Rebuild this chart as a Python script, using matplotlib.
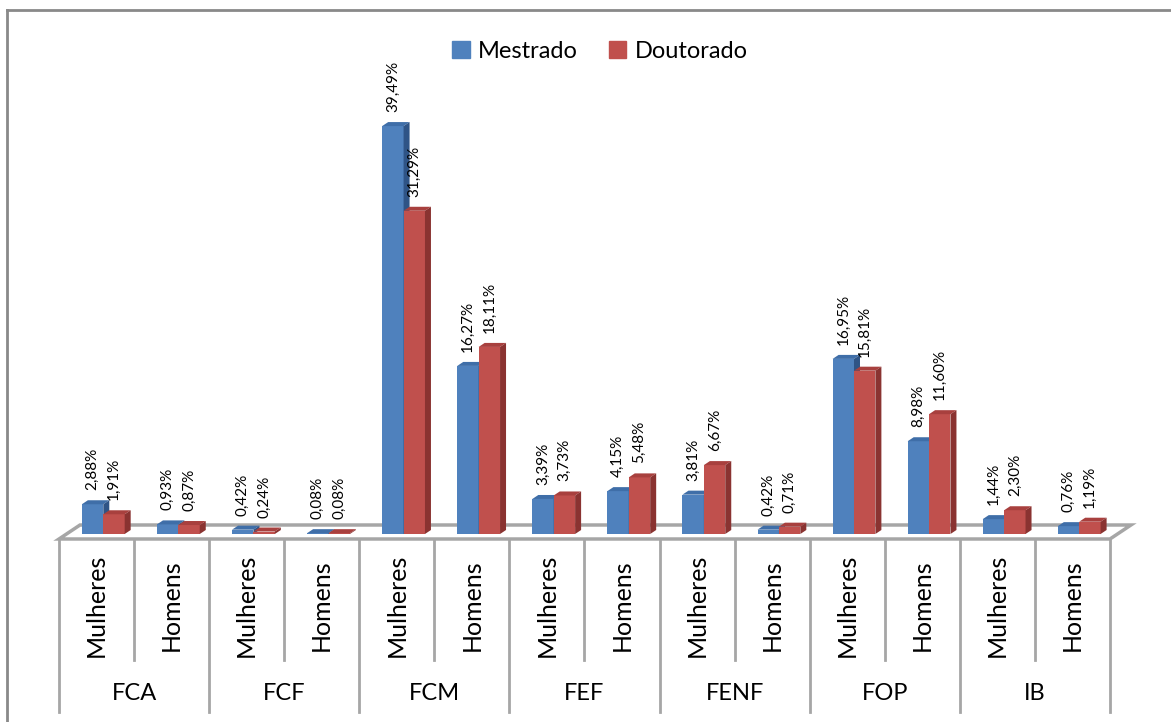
import matplotlib
matplotlib.use("Agg")
import matplotlib.pyplot as plt
from matplotlib.patches import Polygon, Patch
from matplotlib.lines import Line2D

# -------------------------------
# DATA
# -------------------------------
grupos = ["FCA", "FCF", "FCM", "FEF", "FENF", "FOP", "IB"]
sexos = ["Mulheres", "Homens"]
mestrado = [2.88, 0.93, 0.42, 0.08, 39.49, 16.27, 3.39, 4.15, 3.81, 0.42, 16.95, 8.98, 1.44, 0.76]
doutorado = [1.91, 0.87, 0.24, 0.08, 31.29, 18.11, 3.73, 5.48, 6.67, 0.71, 15.81, 11.60, 2.30, 1.19]

plt.rcParams['font.family'] = ['Lato', 'DejaVu Sans']

# colours (front, top, side)
azul = ("#4F81BD", "#3F6EA8", "#2F5486")
vermelho = ("#C0504D", "#A8403E", "#8A3331")
cinza = "#A6A6A6"

# pixel geometry of the original chart
px_slot = 75.07      # width of one category slot
px_pct = 10.33       # pixels per 1 %
base_x, base_y = 59, 534

fig = plt.figure(figsize=(11.71, 7.22), dpi=100)
ax = fig.add_axes([0, 0, 1, 1])
ax.set_xlim(-base_x / px_slot, (1171 - base_x) / px_slot)
ax.set_ylim(-(722 - base_y) / px_pct, base_y / px_pct)
ax.axis('off')

# 3D depth of bars and floor (data units)
dx, dy = 6 / px_slot, 4 / px_pct
fdx, fdy = 21 / px_slot, 14 / px_pct
f_front = -5 / px_pct

n = len(mestrado)

# -------------------------------
# FLOOR
# -------------------------------
floor = Polygon([(0, f_front), (fdx, f_front + fdy), (n + fdx, f_front + fdy), (n, f_front)],
                closed=True, facecolor='white', edgecolor=cinza, lw=2.5, zorder=1)
ax.add_patch(floor)


def barra3d(x, w, h, cores):
    frente, topo, lado = cores
    ax.bar(x, h, w, align='edge', color=frente, edgecolor='none', zorder=3)
    ax.add_patch(Polygon([(x, h), (x + dx, h + dy), (x + w + dx, h + dy), (x + w, h)],
                         closed=True, facecolor=topo, edgecolor='none', zorder=3))
    ax.add_patch(Polygon([(x + w, 0), (x + w, h), (x + w + dx, h + dy), (x + w + dx, dy)],
                         closed=True, facecolor=lado, edgecolor='none', zorder=3))


def rotulo(x, h):
    txt = f"{h:.2f}%".replace('.', ',')
    ax.text(x, h + 14 / px_pct, txt, rotation=90, ha='center', va='bottom',
            fontsize=11, color='black', zorder=5)


w = 0.285
for i in range(n):
    xb = i + 0.305
    xr = xb + w
    barra3d(xb, w, mestrado[i], azul)
    barra3d(xr, w, doutorado[i], vermelho)
    rotulo(xb + w / 2, mestrado[i])
    rotulo(xr + w / 2, doutorado[i])

# -------------------------------
# CATEGORY AXIS
# -------------------------------
y_top = f_front
y_sub = -(660 - base_y) / px_pct
y_grp = -(712 - base_y) / px_pct
for k in range(n + 1):
    y_end = y_grp if k % 2 == 0 else y_sub
    ax.add_line(Line2D([k, k], [y_top, y_end], color=cinza, lw=2, zorder=2))

for i in range(n):
    ax.text(i + 0.5, -(605 - base_y) / px_pct, sexos[i % 2], rotation=90,
            ha='center', va='center', fontsize=18)

for g, nome in enumerate(grupos):
    ax.text(2 * g + 1, -(693 - base_y) / px_pct, nome, ha='center', va='center', fontsize=17)

# -------------------------------
# LEGEND AND FRAME
# -------------------------------
handles = [Patch(color=azul[0], label="Mestrado"), Patch(color=vermelho[0], label="Doutorado")]
fig.legend(handles=handles, loc='center', bbox_to_anchor=(600 / 1171, 1 - 51 / 722),
           ncol=2, frameon=False, fontsize=17, handlelength=0.75, handleheight=0.75,
           handletextpad=0.35, columnspacing=1.3)

fig.add_artist(Line2D([7 / 1171, 1], [1 - 10 / 722, 1 - 10 / 722], color='#898989', lw=2))
fig.add_artist(Line2D([7 / 1171, 7 / 1171], [0, 1 - 10 / 722], color='#898989', lw=2))

fig.savefig("out.png", dpi=100)
